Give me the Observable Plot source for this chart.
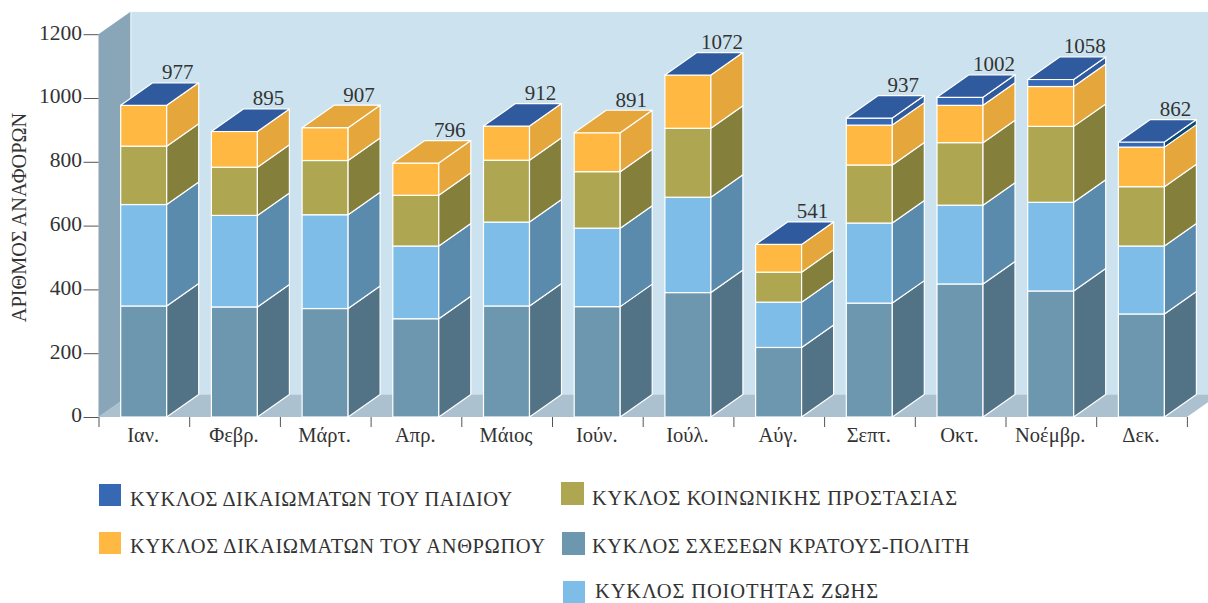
<!DOCTYPE html>
<html lang="el">
<head>
<meta charset="utf-8">
<script src="https://cdn.jsdelivr.net/npm/d3@7"></script>
<script src="https://cdn.jsdelivr.net/npm/@observablehq/plot@0.6"></script>
<style>
html,body{margin:0;padding:0;background:#fff;}
#root{position:relative;width:1208px;height:603px;overflow:hidden;font-family:"Liberation Serif",serif;color:#333;}
#root svg{display:block;position:absolute;left:0;top:0;}
.sw{position:absolute;}
.lb{position:absolute;white-space:nowrap;font-size:20.5px;line-height:16px;color:#333;}
</style>
</head>
<body>
<div id="root"></div>
<script>
const months = ["Ιαν.","Φεβρ.","Μάρτ.","Απρ.","Μάιος","Ιούν.","Ιούλ.","Αύγ.","Σεπτ.","Οκτ.","Νοέμβρ.","Δεκ."];
const totals = [977,895,907,796,912,891,1072,541,937,1002,1058,862];
const sxeseis = [348,345,340,308,348,346,390,218,357,417,395,323];
const poiotita = [318,287,294,228,263,246,299,142,251,247,278,213];
const prostasia = [183,151,170,159,194,177,216,94,182,196,238,186];
const anthropos = [128,112,103,101,107,122,167,87,125,117,125,124];
const paidi = [0,0,null,null,0,null,0,0,22,25,22,16];
const yTicks = [0,200,400,600,800,1000,1200];

const seriesNames = ["ΚΥΚΛΟΣ ΣΧΕΣΕΩΝ ΚΡΑΤΟΥΣ-ΠΟΛΙΤΗ","ΚΥΚΛΟΣ ΠΟΙΟΤΗΤΑΣ ΖΩΗΣ","ΚΥΚΛΟΣ ΚΟΙΝΩΝΙΚΗΣ ΠΡΟΣΤΑΣΙΑΣ","ΚΥΚΛΟΣ ΔΙΚΑΙΩΜΑΤΩΝ ΤΟΥ ΑΝΘΡΩΠΟΥ","ΚΥΚΛΟΣ ΔΙΚΑΙΩΜΑΤΩΝ ΤΟΥ ΠΑΙΔΙΟΥ"];
const seriesValues = [sxeseis,poiotita,prostasia,anthropos,paidi];
const frontColors = ["#6d97ae","#7dbde8","#aea651","#ffb942","#3768b4"];
const sideColors = ["#517385","#5b8bac","#857f3c","#e5a73c","#2f5a9e"];
const topColors = ["#6d97ae","#7dbde8","#aea651","#e5a73c","#2f5a9e"];

const pxPerUnitY = 383/1200, pxPerMonth = 90.7;
const depthX = 32/pxPerMonth, depthY = 22.5/pxPerUnitY;
const barLeft = 22.2/pxPerMonth, barWidth = 46/pxPerMonth;
const xMax = (1208-98.5)/pxPerMonth;

const fronts=[], sides=[], tops=[];
months.forEach((m,i)=>{
  const xl=i+barLeft, xr=xl+barWidth;
  let base=0, topIdx=0;
  seriesValues.forEach((vals,s)=>{
    const v=vals[i];
    if(v===null) return;
    const top=base+v;
    if(v>0){
      fronts.push({i,x1:xl,x2:xr,y1:base,y2:top,fill:frontColors[s]});
      const sideFill = (s===4 && i===11) ? "#0a4b75" : sideColors[s];
      sides.push({id:i+"-"+s,i,x:xr,y1:base,y2:top,fill:sideFill});
      sides.push({id:i+"-"+s,i,x:xr+depthX,y1:base+depthY,y2:top+depthY,fill:sideFill});
    }
    topIdx=s;
    base=top;
  });
  tops.push({i,x1:xl,x2:xr,y:base,fill:topColors[topIdx]});
  tops.push({i,x1:xl+depthX,x2:xr+depthX,y:base+depthY,fill:topColors[topIdx]});
});
const labels = months.map((m,i)=>({
  x:i+barLeft+barWidth/2+depthX,
  y:tops[2*i+1].y,
  t:String(totals[i])
}));

const floor=[{x1:0,x2:12,y:0},{x1:depthX,x2:12+depthX,y:depthY}];
const leftWall=[{x:0,y1:0,y2:1200},{x:depthX,y1:depthY,y2:1200+depthY}];
const edge="#fff";

const marks=[
  Plot.rect([{x1:depthX,x2:xMax,y1:depthY,y2:1200+depthY}],{x1:"x1",x2:"x2",y1:"y1",y2:"y2",fill:"#cce3ef",clip:true}),
  Plot.areaX(floor,{x1:"x1",x2:"x2",y:"y",fill:"#acc1cf",clip:true}),
  Plot.areaY(leftWall,{x:"x",y1:"y1",y2:"y2",fill:"#88a6b7"}),
  Plot.ruleX([depthX],{y1:depthY,y2:1200+depthY,stroke:"#eaf3f8",strokeWidth:1}),
  Plot.axisY({ticks:yTicks,tickSize:15,tickFormat:()=>"",stroke:"#555",label:null}),
  Plot.text(yTicks,{y:d=>d,text:d=>String(d),frameAnchor:"left",dx:-17,dy:-2,textAnchor:"end",fontSize:21.5,fill:"#333"}),
  Plot.text(["ΑΡΙΘΜΟΣ ΑΝΑΦΟΡΩΝ"],{y:[627],text:d=>d,frameAnchor:"left",dx:-80,rotate:-90,textAnchor:"middle",fontSize:20.3,fill:"#333"}),
  Plot.axisX({ticks:d3.range(0,13),tickSize:10,tickFormat:()=>"",stroke:"#555",label:null}),
  Plot.text(months,{x:(d,i)=>i+barLeft+barWidth/2,y:0,text:d=>d,dx:-1,dy:18,textAnchor:"middle",lineAnchor:"middle",fontSize:20.5,fill:"#333"})
];
months.forEach((m,i)=>{
  marks.push(
    Plot.rect(fronts.filter(d=>d.i===i),{x1:"x1",x2:"x2",y1:"y1",y2:"y2",fill:"fill",stroke:edge,strokeWidth:1.2}),
    Plot.areaY(sides.filter(d=>d.i===i),{x:"x",y1:"y1",y2:"y2",z:"id",fill:"fill",stroke:edge,strokeWidth:1.2}),
    Plot.areaX(tops.filter(d=>d.i===i),{x1:"x1",x2:"x2",y:"y",fill:"fill",stroke:edge,strokeWidth:1.2})
  );
});
marks.push(Plot.text(labels,{x:"x",y:"y",text:"t",dx:1.5,dy:-4,lineAnchor:"bottom",textAnchor:"middle",fontSize:21,fill:"#333"}));

const chart=Plot.plot({
  width:1208,height:470,
  marginLeft:98.5,marginRight:0,marginTop:11.7,marginBottom:53,
  style:{fontFamily:"'Liberation Serif',serif",background:"transparent",overflow:"visible"},
  x:{type:"linear",domain:[0,xMax],axis:null},
  y:{type:"linear",domain:[0,1200+depthY],axis:null},
  color:{type:"identity"},
  marks
});
const root=document.getElementById("root");
root.appendChild(chart);

const legendOrder=[4,3,2,0,1];
const swatchX=[99,99,561,562,563], swatchY=[484,532,482,532,581], swatchS=[22,22,23,23,22];
const labelX=[130,130,592,592,595], labelY=[491,538,490,538,583];
const labelSpacing=[0.47,0.6,0.64,0.5,0.85];
legendOrder.forEach((s,k)=>{
  const sw=document.createElement("div");
  sw.className="sw";
  sw.style.cssText=`left:${swatchX[k]}px;top:${swatchY[k]}px;width:${swatchS[k]}px;height:${swatchS[k]}px;background:${frontColors[s]}`;
  root.appendChild(sw);
  const lb=document.createElement("div");
  lb.className="lb";
  lb.style.left=labelX[k]+"px";
  lb.style.top=labelY[k]+"px";
  lb.style.letterSpacing=labelSpacing[k]+"px";
  lb.textContent=seriesNames[s];
  root.appendChild(lb);
});
</script>
</body>
</html>
